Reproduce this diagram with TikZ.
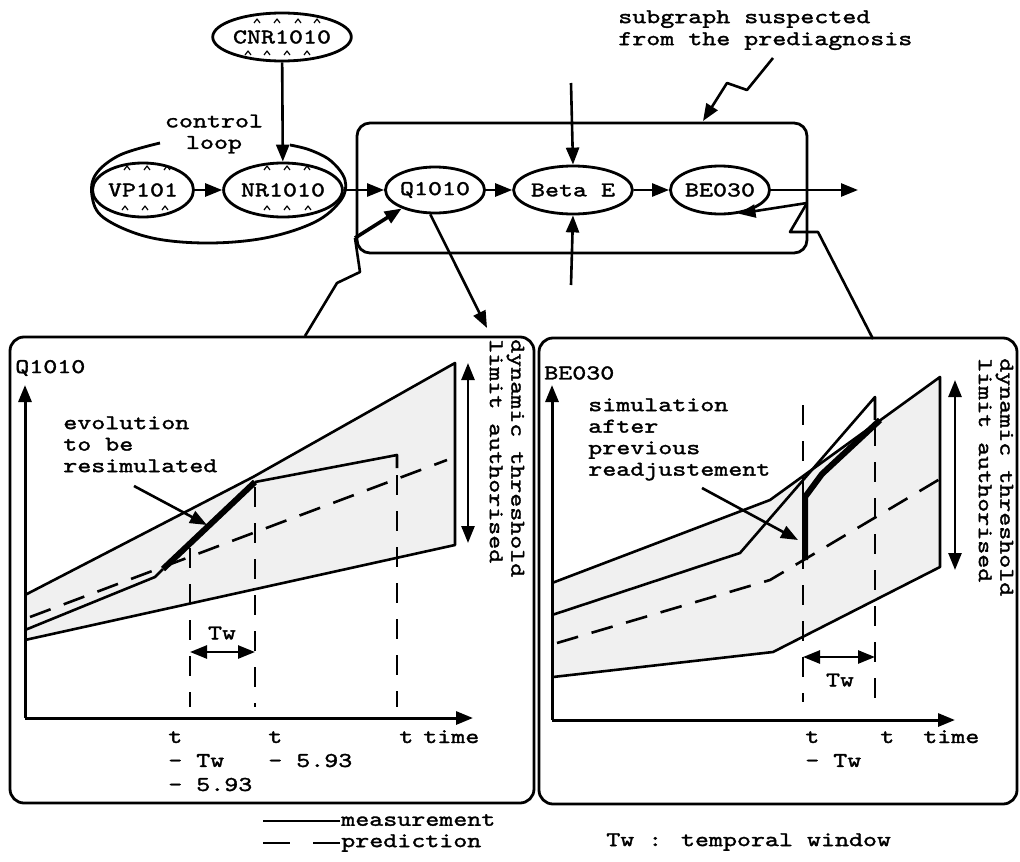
\documentclass[tikz,border=0pt]{standalone}
\usepackage{fontspec}
\newfontfamily\cf{lmmono10-regular.otf}[FakeBold=1.6,FakeStretch=1.27]
\usetikzlibrary{shapes.geometric,arrows.meta}
\begin{document}
\begin{tikzpicture}[x=1pt,y=-1pt,
  line width=2.6pt, line join=round,
  every node/.style={font=\cf\fontsize{21}{21.5}\selectfont, inner sep=0pt},
  ell/.style={ellipse, draw, line width=2.8pt},
  tip/.style={-{Triangle[length=17pt,width=13pt]}},
  dtip/.style={{Triangle[length=17pt,width=13pt]}-{Triangle[length=17pt,width=13pt]}},
  pred/.style={dash pattern=on 22pt off 14pt},
  vdash/.style={dash pattern=on 20pt off 16pt},
  band/.style={fill=black!6, draw=none},
  hatmark/.style={line width=1.2pt},
  boldline/.style={line width=6pt},
  panel/.style={rounded corners=14pt, line width=2.8pt},
  lbl/.style={align=left},
  cols/.style={align=left, font=\cf\fontsize{21}{24}\selectfont},
  rot/.style={rotate=-90, anchor=west, align=left},
]
\useasboundingbox (0,0) rectangle (1020,862);

% ---------- graph nodes ----------
\node[ell, minimum width=132pt, minimum height=48pt] (cnr) at (282,37) {CNR1010};
\node[ell, minimum width=101pt, minimum height=54pt] (vp) at (143,190) {VP101};
\node[ell, minimum width=110pt, minimum height=54pt] (nr) at (283,190) {NR1010};
\node[ell, minimum width=96pt, minimum height=46pt] (q) at (435,190) {Q1010};
\node[ell, minimum width=106pt, minimum height=48pt] (beta) at (573,190) {Beta E};
\node[ell, minimum width=94pt, minimum height=48pt] (be) at (720,190) {BE030};

% caret marks
\foreach \px/\py in {257/21,277/21,298/21,317/21,248/53,267/53,287/53,307/53,
                     127/168,147/168,167/168,125/208,145/208,165/208,
                     267/168,287/168,307/168,267/208,287/208,308/208}
  {\draw[hatmark] (\px-3,\py+2) -- (\px,\py-2) -- (\px+3,\py+2);}

% control loop
\draw[line width=2.8pt] plot[smooth, tension=0.6] coordinates {(160,143) (120,155) (96,174) (92,196) (104,218) (148,237) (205,243) (265,238) (315,222) (341,200) (345,180) (331,161) (310,150) (290,145)};
\node[align=center] (loop) at (214,134) {control\\loop};

% subgraph box
\draw[rounded corners=13pt, line width=2.8pt] (357,123) rectangle (807,253);
\node[align=left, anchor=north west, font=\cf\fontsize{21}{22}\selectfont] (sublbl) at (617,9) {subgraph suspected\\from the prediagnosis};

% graph connectors
\draw[tip] (cnr) -- (nr);
\draw[tip] (vp) -- (nr);
\draw[tip] (nr) -- (q);
\draw[tip] (q) -- (beta);
\draw[tip] (beta) -- (be);
\coordinate (bout) at (858,190);
\draw[tip] (be.east) -- (bout);
\coordinate (btop) at (571,83);
\coordinate (bbot) at (571,285);
\draw[tip] (btop) -- (beta.north);
\draw[tip] (bbot) -- (beta.south);

% label zigzag to subgraph
\coordinate (z1) at (773,58);
\coordinate (z2) at (747,90);
\coordinate (z3) at (727,83);
\coordinate (z4) at (703,121);
\draw[tip] (z1) -- (z2) -- (z3) -- (z4);

% left zigzag to Q1010 panel
\coordinate (lz0) at (355,238);
\draw[tip, line width=3.6pt] (lz0) -- (q.209);
\draw (lz0) -- (360,272) -- (337,283) -- (305,336);
\coordinate (qdown) at (487,328);
\draw[tip] (q.259) -- (qdown);

% right zigzag to BE030 panel
\coordinate (rz0) at (807,203);
\draw[tip] (rz0) -- (be.-52);
\draw (rz0) -- (790,232) -- (818,232) -- (873,339);

% ---------- panels ----------
\draw[panel] (10,337) rectangle (534,803);
\draw[panel] (539,338) rectangle (1017,804);

% ---- left panel ----
\fill[band] (25,595) -- (253,477) -- (455,363) -- (455,545) -- (25,640) -- cycle;
\draw (25,595) -- (253,477) -- (455,363) -- (455,545) -- (25,640);
\draw (25,630) -- (155,577) -- (163,569);
\draw[boldline] (163,569) -- (255,482);
\draw (255,482) -- (397,455) -- (397,468);
\draw[pred] (30,617) -- (447,460);
\draw[vdash] (190,548) -- (190,707);
\draw[vdash] (255,487) -- (255,707);
\draw[vdash] (397,475) -- (397,707);
\draw[tip, line width=3pt] (25,718) -- (25,385);
\draw[tip, line width=3pt] (25,718) -- (473,718);
\draw[dtip] (190,652) -- (255,652);
\node (twl) at (222,633) {Tw};
\draw[dtip] (468,363) -- (468,543);
\node[rot] (dynl) at (507,338) {dynamic threshold\\limit authorised};
\node[anchor=west] (qlab) at (14,368) {Q1010};
\node[lbl, anchor=north west] (evo) at (62,415) {evolution\\to be\\resimulated};
\coordinate (evot) at (207,525);
\draw[tip] (134,486) -- (evot);
\node[cols, anchor=north west] (t1) at (167,730) {t\\- Tw\\- 5.93};
\node[cols, anchor=north west] (t2) at (267,730) {t\\- 5.93};
\node[anchor=base west] (t3) at (398,743) {t};
\node[anchor=base west] (time1) at (422,743) {time};

% ---- right panel ----
\fill[band] (552,583) -- (770,500) -- (940,377) -- (940,567) -- (773,652) -- (553,677) -- cycle;
\draw (552,583) -- (770,500) -- (940,377) -- (940,567) -- (773,652) -- (553,677);
\draw (552,615) -- (740,553) -- (875,397) -- (875,420);
\draw[boldline] (805,560) -- (805,497) -- (822,474) -- (880,420);
\draw[pred] (557,643) -- (770,580) -- (950,473);
\draw[vdash] (803,405) -- (803,702);
\draw[vdash] (875,426) -- (875,702);
\draw[tip, line width=3pt] (552,720) -- (552,385);
\draw[tip, line width=3pt] (552,720) -- (955,720);
\draw[dtip] (803,657) -- (875,657);
\node (twr) at (840,680) {Tw};
\draw[dtip] (955,380) -- (955,570);
\node[rot] (dynr) at (996,357) {dynamic threshold\\limit authorised};
\node[anchor=west] (belab) at (543,373) {BE030};
\node[lbl, anchor=north west] (sim) at (587,397) {simulation\\after\\previous\\readjustement};
\coordinate (simt) at (798,540);
\draw[tip] (702,488) -- (simt);
\node[cols, anchor=north west] (t4) at (804,730) {t\\- Tw};
\node[anchor=base west] (t5) at (879,743) {t};
\node[anchor=base west] (time2) at (922,743) {time};

% ---------- legend ----------
\coordinate (m1) at (263,821);
\coordinate (m2) at (340,821);
\draw (m1) -- (m2);
\node[anchor=west] (meas) at (340,820) {measurement};
\coordinate (p1) at (263,843);
\coordinate (p2) at (340,843);
\draw[dash pattern=on 27pt off 23pt] (p1) -- (p2);
\node[anchor=west] (predl) at (340,843) {prediction};
\node[anchor=west] (twleg) at (605,842) {Tw : temporal window};
\end{tikzpicture}
\end{document}
